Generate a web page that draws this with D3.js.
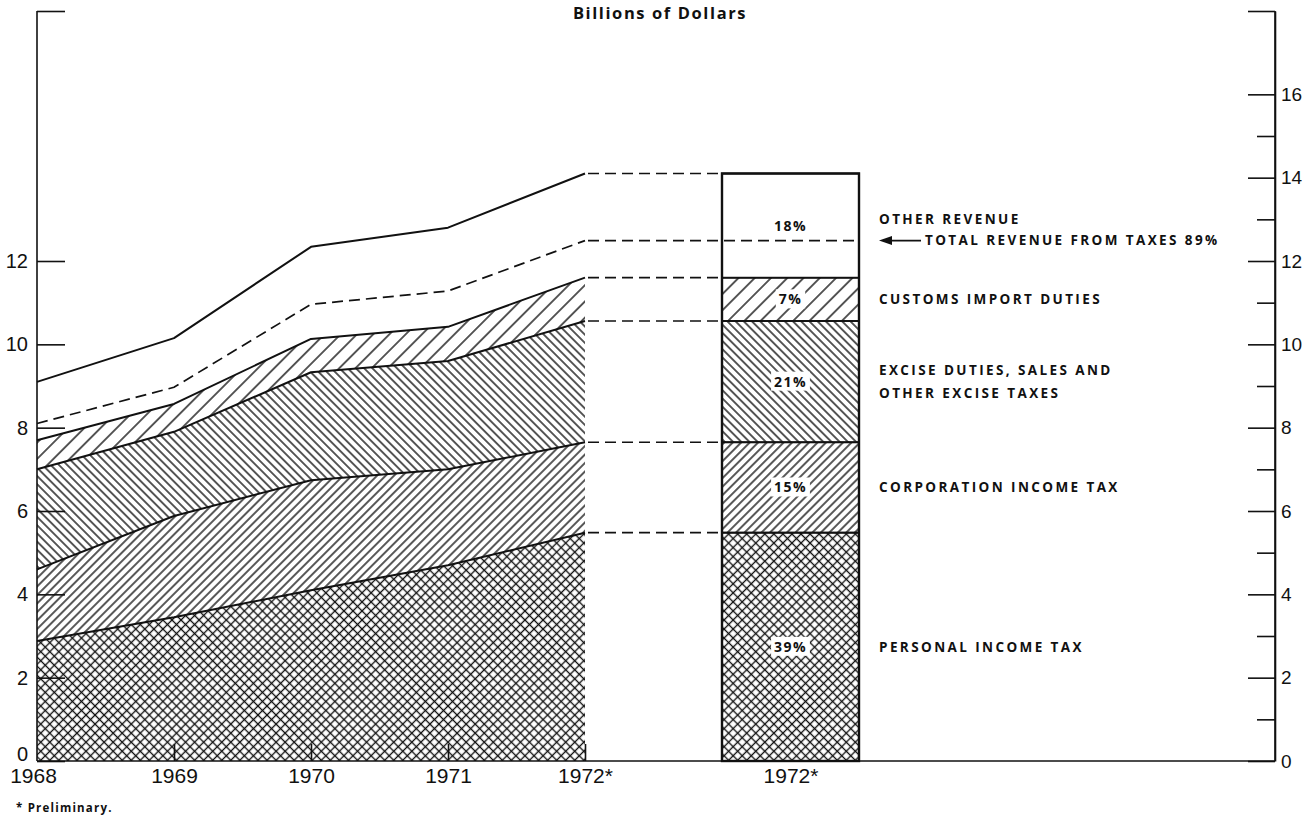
<!DOCTYPE html>
<html><head><meta charset="utf-8">
<script src="https://cdn.jsdelivr.net/npm/d3@7"></script>
<style>body{margin:0;background:#fff} svg{display:block}</style>
</head><body>
<svg id="chart" width="1304" height="816"></svg>
<script>
// ---- data (billions of dollars) ----
const years = [1968, 1969, 1970, 1971, 1972];
const personalIncomeTax    = [2.88, 3.45, 4.10, 4.70, 5.48];
const corporationIncomeTax = [1.72, 2.43, 2.64, 2.30, 2.17];
const exciseTaxes          = [2.40, 2.02, 2.59, 2.60, 2.91];
const customsDuties        = [0.70, 0.67, 0.80, 0.82, 1.04];
const otherRevenue         = [1.40, 1.58, 2.21, 2.38, 2.50];
const totalTaxRevenue      = [8.10, 8.97, 10.96, 11.28, 12.49];
const seriesKeys = ["personal", "corporation", "excise", "customs", "other"];
const seriesLabels = [["PERSONAL INCOME TAX"], ["CORPORATION INCOME TAX"],
  ["EXCISE DUTIES, SALES AND", "OTHER EXCISE TAXES"], ["CUSTOMS IMPORT DUTIES"], ["OTHER REVENUE"]];
const barPercents = ["39%", "15%", "21%", "7%", "18%"];
const taxShareLabel = "TOTAL REVENUE FROM TAXES 89%";
const xTickLabels = ["1968", "1969", "1970", "1971", "1972*"];
const barLabel = "1972*";
const leftTicks = [0, 2, 4, 6, 8, 10, 12];
const rightMajorTicks = [0, 2, 4, 6, 8, 10, 12, 14, 16];
const rightMinorTicks = [1, 3, 5, 7, 9, 11, 13, 15];
const axisTop = 18;
const titleText = "Billions of Dollars";
const footnote = "* Preliminary.";

// ---- layout ----
const svg = d3.select("#chart");
const x = d3.scaleLinear().domain([1968, 1972]).range([37, 585]);
const y = d3.scaleLinear().domain([0, axisTop]).range([761, 11]);
const barYears = [1973, 1974];
const xRight = 1275;
const ink = "#111";
const labelFont = "Open Sans, DejaVu Sans, sans-serif";
const numFont = "Liberation Sans, Arial, sans-serif";

const rows = years.map((yr, i) => ({
  year: yr, personal: personalIncomeTax[i], corporation: corporationIncomeTax[i],
  excise: exciseTaxes[i], customs: customsDuties[i], other: otherRevenue[i]
}));
const stacked = d3.stack().keys(seriesKeys)(rows);

// ---- patterns ----
const defs = svg.append("defs");
function hatch(id, angle, gap, w) {
  const p = defs.append("pattern").attr("id", id).attr("patternUnits", "userSpaceOnUse")
    .attr("width", gap).attr("height", gap).attr("patternTransform", `rotate(${angle})`);
  p.append("line").attr("x1", gap / 2).attr("x2", gap / 2).attr("y1", -1).attr("y2", gap + 1)
    .attr("stroke", ink).attr("stroke-width", w);
}
(function () {
  const g = 6.4;
  const p = defs.append("pattern").attr("id", "cross").attr("patternUnits", "userSpaceOnUse")
    .attr("width", g).attr("height", g).attr("patternTransform", "rotate(45)");
  p.append("line").attr("x1", g / 2).attr("x2", g / 2).attr("y1", -1).attr("y2", g + 1).attr("stroke", ink).attr("stroke-width", 1.35);
  p.append("line").attr("y1", g / 2).attr("y2", g / 2).attr("x1", -1).attr("x2", g + 1).attr("stroke", ink).attr("stroke-width", 1.35);
})();
hatch("fwd", 45, 6.0, 1.4);
hatch("back", -45, 5.8, 1.4);
hatch("fwdWide", 45, 11.5, 1.4);
const fills = { personal: "url(#cross)", corporation: "url(#fwd)", excise: "url(#back)", customs: "url(#fwdWide)", other: "#fff" };

// ---- stacked areas ----
const area = d3.area().x((d, i) => x(years[i])).y0(d => y(d[0])).y1(d => y(d[1]));
svg.append("g").selectAll("path").data(stacked).join("path")
  .attr("d", area).attr("fill", d => fills[d.key]).attr("stroke", "none");

const line = d3.line().x((d, i) => x(years[i])).y(d => y(d));
svg.append("g").selectAll("path").data(stacked).join("path")
  .attr("d", s => line(s.map(d => d[1]))).attr("fill", "none")
  .attr("stroke", ink).attr("stroke-width", 2).attr("stroke-linejoin", "round");
svg.append("path").attr("d", line(totalTaxRevenue)).attr("fill", "none")
  .attr("stroke", ink).attr("stroke-width", 1.7).attr("stroke-dasharray", "11,6");

// ---- dashed connectors to the bar ----
const last = years.length - 1;
const levels = stacked.map(s => s[last][1]);
svg.append("g").selectAll("line").data(levels).join("line")
  .attr("x1", x(1972) + 3).attr("x2", x(barYears[0]))
  .attr("y1", d => y(d)).attr("y2", d => y(d))
  .attr("stroke", ink).attr("stroke-width", 1.7).attr("stroke-dasharray", "11,6");

// ---- the 1972 bar ----
const bx0 = x(barYears[0]), bx1 = x(barYears[1]);
const bar = svg.append("g");
bar.selectAll("rect").data(stacked).join("rect")
  .attr("x", bx0).attr("width", bx1 - bx0)
  .attr("y", s => y(s[last][1])).attr("height", s => y(s[last][0]) - y(s[last][1]))
  .attr("fill", s => fills[s.key]).attr("stroke", ink).attr("stroke-width", 1.8);
bar.append("line").attr("x1", x(1972) + 3).attr("x2", bx1)
  .attr("y1", y(totalTaxRevenue[last])).attr("y2", y(totalTaxRevenue[last]))
  .attr("stroke", ink).attr("stroke-width", 1.7).attr("stroke-dasharray", "11,6");
bar.append("rect").attr("x", bx0).attr("width", bx1 - bx0)
  .attr("y", y(levels[levels.length - 1])).attr("height", y(0) - y(levels[levels.length - 1]))
  .attr("fill", "none").attr("stroke", ink).attr("stroke-width", 2.4);

// percent labels inside the bar
const pctG = bar.append("g");
stacked.forEach((s, i) => {
  const cy = y((s[last][0] + s[last][1]) / 2);
  const cx = (bx0 + bx1) / 2;
  const t = pctG.append("text").attr("x", cx).attr("y", cy).attr("dy", "0.36em")
    .attr("text-anchor", "middle").attr("font-family", labelFont)
    .attr("font-weight", 700).attr("font-size", 14).attr("letter-spacing", 1.4).attr("fill", ink)
    .text(barPercents[i]);
  const bb = t.node().getBBox();
  pctG.insert("rect", () => t.node()).attr("x", bb.x - 3).attr("y", bb.y).attr("width", bb.width + 6)
    .attr("height", bb.height).attr("fill", "#fff");
});

// series labels at right
const labG = svg.append("g").attr("font-family", labelFont)
  .attr("font-weight", 700).attr("font-size", 13.5).attr("letter-spacing", 2.4).attr("fill", ink);
stacked.forEach((s, i) => {
  const lines = seriesLabels[i];
  let cy = y((s[last][0] + s[last][1]) / 2);
  if (s.key === "other") cy -= 6;
  const lh = 23;
  lines.forEach((ln, j) => {
    labG.append("text").attr("x", bx1 + 20).attr("y", cy + (j - (lines.length - 1) / 2) * lh)
      .attr("dy", "0.36em").text(ln);
  });
});
// arrow to total tax revenue
const ty = y(totalTaxRevenue[last]);
svg.append("line").attr("x1", bx1 + 26).attr("x2", bx1 + 62).attr("y1", ty).attr("y2", ty)
  .attr("stroke", ink).attr("stroke-width", 1.6);
svg.append("path").attr("d", `M${bx1 + 20},${ty} L${bx1 + 33},${ty - 4.5} L${bx1 + 33},${ty + 4.5} Z`).attr("fill", ink);
labG.append("text").attr("x", bx1 + 66).attr("y", ty).attr("dy", "0.36em").text(taxShareLabel);

// ---- axes ----
const axStyle = (size) => g => {
  g.selectAll(".domain").attr("stroke", ink).attr("stroke-width", 1.6);
  g.selectAll(".tick line").attr("stroke", ink).attr("stroke-width", 1.6);
  g.selectAll("text").attr("font-family", numFont).attr("font-size", size).attr("fill", ink);
};
svg.append("g").attr("transform", `translate(${x(1968)},0)`)
  .call(d3.axisLeft(y).tickValues([...leftTicks, axisTop]).tickSize(-28).tickSizeOuter(0).tickPadding(9)
    .tickFormat(d => d === axisTop ? "" : d))
  .call(axStyle(20)).call(g => g.select(".domain").attr("d", `M0,${y(0)}V${y(axisTop)}`))
  .call(g => g.selectAll(".tick text").filter(d => d === 0).attr("dy", "-0.05em"));

svg.append("g").attr("transform", `translate(${xRight},0)`)
  .call(d3.axisRight(y).tickValues(rightMinorTicks).tickSize(-18).tickSizeOuter(0).tickFormat(""))
  .call(axStyle(19));
svg.append("g").attr("transform", `translate(${xRight},0)`)
  .call(d3.axisRight(y).tickValues([...rightMajorTicks, axisTop]).tickSize(-27).tickSizeOuter(0).tickPadding(6)
    .tickFormat(d => d === axisTop ? "" : d))
  .call(axStyle(19)).call(g => g.select(".domain").attr("d", `M0,${y(0)}V${y(axisTop)}`));

// baseline and year axis
svg.append("line").attr("x1", x(1968)).attr("x2", xRight).attr("y1", y(0)).attr("y2", y(0))
  .attr("stroke", ink).attr("stroke-width", 1.6);
svg.append("g").attr("transform", `translate(0,${y(0)})`)
  .call(d3.axisBottom(x).tickValues(years).tickSize(-17).tickSizeOuter(0).tickPadding(7)
    .tickFormat((d, i) => xTickLabels[i]))
  .call(axStyle(21)).call(g => g.select(".domain").remove())
  .call(g => g.selectAll(".tick line").filter(d => d === 1968).remove())
  .call(g => g.selectAll(".tick text").filter(d => d === 1968).attr("dx", "-4"));
svg.append("g").attr("transform", `translate(0,${y(0)})`)
  .call(d3.axisBottom(d3.scalePoint().domain([barLabel]).range([(bx0 + bx1) / 2, (bx0 + bx1) / 2]))
    .tickSize(0).tickPadding(7))
  .call(axStyle(21)).call(g => g.select(".domain").remove());

// title and footnote
svg.append("text").attr("x", 660).attr("y", 19).attr("text-anchor", "middle")
  .attr("font-family", labelFont).attr("font-weight", 700)
  .attr("font-size", 16.5).attr("letter-spacing", 1.6).attr("fill", ink).text(titleText);
svg.append("text").attr("x", 16).attr("y", 812)
  .attr("font-family", labelFont).attr("font-weight", 700)
  .attr("font-size", 11.5).attr("letter-spacing", 1.2).attr("fill", ink).text(footnote);
</script>
</body></html>
